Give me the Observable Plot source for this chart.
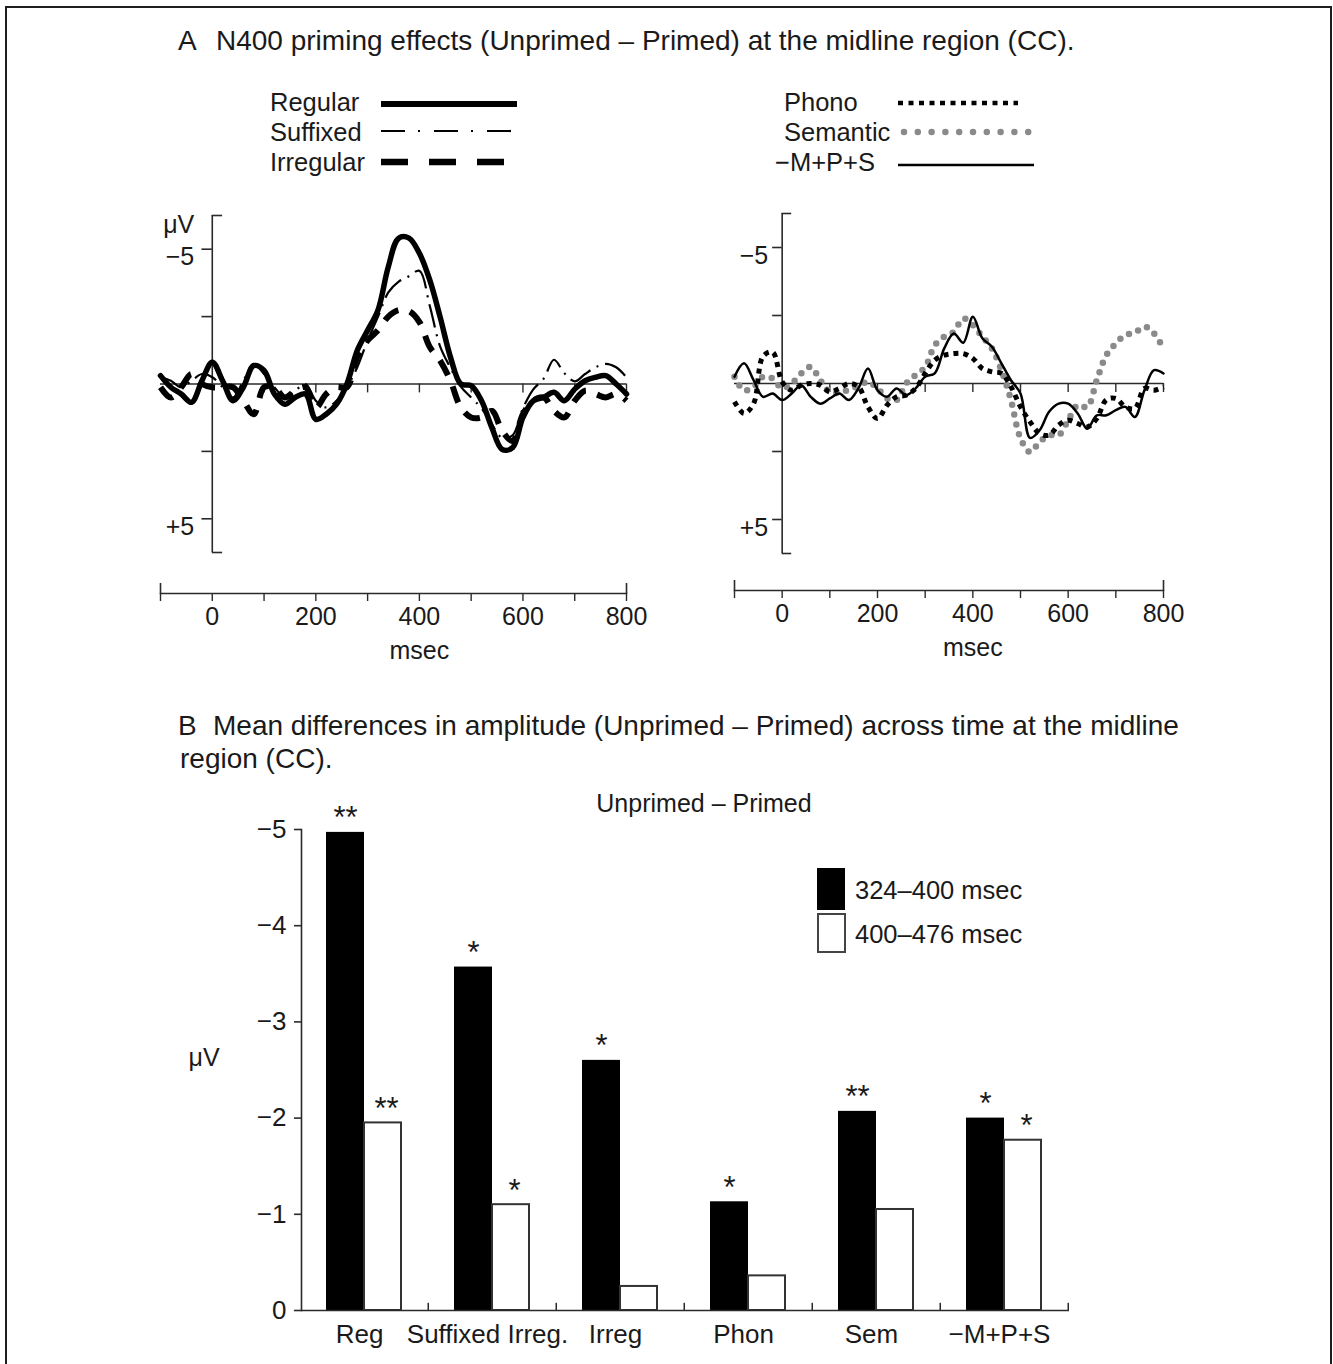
<!DOCTYPE html>
<html><head><meta charset="utf-8">
<script src="https://cdn.jsdelivr.net/npm/d3@7"></script>
<script src="https://cdn.jsdelivr.net/npm/@observablehq/plot@0.6"></script>
<style>
body{margin:0;background:#fff;}
#page{position:relative;width:1333px;height:1364px;overflow:hidden;font-family:"Liberation Sans",Arial,sans-serif;color:#1a1a1a;background:#fff;}
#frame{position:absolute;left:5px;top:6px;width:1327px;height:1420px;border:2.2px solid #1e1e1e;box-sizing:border-box;}
.abs{position:absolute;}
</style></head><body><div id="page"><div id="frame"></div></div>
<script>
// ---------------- DATA ----------------
const times = [-100,-80,-60,-40,-20,0,20,40,60,80,100,120,140,160,180,200,220,240,260,280,300,320,340,360,380,400,420,440,460,480,500,520,540,560,580,600,620,640,660,680,700,720,740,760,780,800];

const regular   = [-0.31,0.12,0.37,0.68,-0.12,-0.81,-0.12,0.62,0.12,-0.68,-0.5,0.37,0.75,0.5,0.37,1.31,1.12,0.75,0,-1.24,-1.99,-2.74,-4.35,-5.41,-5.41,-4.85,-3.86,-2.49,-1.0,0,0.06,0.62,1.62,2.43,2.36,1.24,0.62,0.5,0.31,0.62,0.19,-0.12,-0.25,-0.31,0,0.37];
const suffixed  = [-0.25,-0.12,0.12,-0.12,-0.37,-0.25,0.12,0.5,-0.12,-0.75,-0.37,0.12,0.5,0.25,0,0.62,0.87,0.62,0.12,-0.62,-1.62,-2.49,-3.4,-3.8,-4.0,-4.2,-2.9,-1.4,-0.6,0.1,0.5,0.9,1.5,2.0,1.9,0.9,0.2,-0.2,-0.9,-0.4,-0.1,-0.37,-0.62,-0.75,-0.62,-0.25];
const irregular = [0.12,0.5,0.12,-0.37,0,0.12,0.12,0.12,0.62,1.12,0.12,0.12,0.5,0.25,0.12,0.87,0.37,0.12,0.12,-1.0,-1.62,-1.99,-2.5,-2.74,-2.7,-2.3,-1.37,-0.87,-0.12,0.87,1.24,1.24,1.0,1.74,2.11,1.12,0.62,0.5,1.0,1.24,0.62,0.25,0.37,0.5,0.37,0.62];

const phono     = [0.67,1.1,0.74,-1.0,-1.15,-0.06,0.25,0.06,0,0.06,0.31,0.18,0,0.12,0.86,1.29,0.8,0.49,0.43,0.18,-0.37,-0.86,-1.04,-1.1,-1.1,-0.92,-0.55,-0.43,-0.37,0.12,0.86,1.41,1.84,1.9,1.53,1.35,1.47,1.6,1.29,0.6,0.55,0.86,0.92,0.18,0.25,0.12];
const semantic  = [-0.25,0.25,0.12,-0.25,-0.18,0.18,0,-0.37,-0.61,-0.12,0.31,0.34,0.22,0.1,-0.06,0.18,0.55,0.61,0,-0.31,-0.6,-1.4,-1.72,-1.9,-2.39,-2.15,-1.72,-1.29,-0.49,0.61,2.02,2.52,2.15,1.9,1.9,1.35,0.8,0.86,-0.12,-1.04,-1.47,-1.78,-1.87,-2.09,-1.84,-1.29];
const mps       = [-0.25,-0.74,-0.12,0.49,0.37,0.61,0.37,0.06,0.49,0.74,0.55,0.37,0.61,0.18,-0.55,0.25,0.49,0.18,0.43,0.18,-0.25,-0.37,-1.29,-1.84,-1.5,-2.45,-1.66,-1.35,-0.74,-0.12,0.37,2.0,1.72,1.04,0.74,0.74,1.1,1.66,1.17,1.17,0.98,0.86,1.23,0.25,-0.49,-0.37];

const leftSeriesNames  = ["Regular","Suffixed","Irregular"];
const rightSeriesNames = ["Phono","Semantic","−M+P+S"];

const erpXTicks = [-100,0,100,200,300,400,500,600,700,800];
const erpXLabeled = [0,200,400,600,800];
const erpBaseTicks = [100,200,300,400,500,600,700,800];
const erpYTicks = [-5,-2.5,2.5,5];
const erpYEnds = [-6.25,6.25];
const erpYTickLabels = ["−5","+5"];
const erpYTickLabelValues = [-5,5];
const erpUnit = "μV";
const erpXLabel = "msec";

const categories = ["Reg","Suffixed Irreg.","Irreg","Phon","Sem","−M+P+S"];
const early = [-4.97,-3.57,-2.60,-1.13,-2.07,-2.00];   // 324–400 msec
const late  = [-1.95,-1.10,-0.25,-0.36,-1.05,-1.77];   // 400–476 msec
const earlyStars = ["**","*","*","*","**","*"];
const lateStars  = ["**","*","","","","*"];
const barYTicks = [-5,-4,-3,-2,-1,0];
const periods = ["324–400 msec","400–476 msec"];

const titleA = ["A","N400 priming effects (Unprimed – Primed) at the midline region (CC)."];
const titleB = ["B","Mean differences in amplitude (Unprimed – Primed) across time at the midline","region (CC)."];
const barTitle = "Unprimed – Primed";

// ---------------- STYLES ----------------
const FONT = '"Liberation Sans", Arial, sans-serif';
const INK = "#1a1a1a";
const AX = "#2a2a2a";
const styles = {
  "Regular":   {stroke:"#000", strokeWidth:5.5, strokeLinecap:"round"},
  "Suffixed":  {stroke:"#000", strokeWidth:2.2, strokeDasharray:"24 7 2 7", strokeLinecap:"butt"},
  "Irregular": {stroke:"#000", strokeWidth:6,   strokeDasharray:"17 12", strokeLinecap:"butt"},
  "Phono":     {stroke:"#000", strokeWidth:5,   strokeDasharray:"5 5", strokeLinecap:"butt"},
  "Semantic":  {stroke:"#8a8a8a", strokeWidth:6.5, strokeDasharray:"0 10", strokeLinecap:"round"},
  "−M+P+S":    {stroke:"#000", strokeWidth:2.5, strokeLinecap:"round"}
};
// legend-specific dash patterns (the legend swatches are drawn with a looser rhythm)
const legendStyles = {
  "Regular":   {width: 6,   dash: null,          cap: "butt"},
  "Suffixed":  {width: 2.2, dash: "24 13 2 14",  cap: "butt"},
  "Irregular": {width: 6.5, dash: "27 21",       cap: "butt"},
  "Phono":     {width: 4.5, dash: "5 5.5",       cap: "butt"},
  "Semantic":  {width: 6.5, dash: "0 13.8",      cap: "round"},
  "−M+P+S":    {width: 2.6, dash: null,          cap: "butt"}
};
const seriesValues = {"Regular":regular,"Suffixed":suffixed,"Irregular":irregular,"Phono":phono,"Semantic":semantic,"−M+P+S":mps};
const tidy = name => seriesValues[name].map((v,i)=>({t: times[i], v}));

const baseStyle = {background:"transparent", fontFamily: FONT, color: INK, overflow:"visible"};
const page = document.getElementById("page");
function place(el, left, top){ el.classList.add("abs"); el.style.left = left+"px"; el.style.top = top+"px"; page.appendChild(el); }

// ---------------- ERP PANELS ----------------
function erpPlot({width, mL, mR, mT, mB, inset, labelDx, labelDy, unit, drawOrder}) {
  const frameH = 480 - mT - mB;
  const yLab = erpYTickLabelValues.map((v,i)=>({v, label: erpYTickLabels[i]}));
  const marks = [
    Plot.ruleY([0], {stroke: AX, strokeWidth: 1.4}),
    Plot.ruleX(erpBaseTicks, {y1: 0, y2: 0.33, stroke: AX, strokeWidth: 1.4}),
    Plot.ruleX([0], {y1: erpYEnds[0], y2: erpYEnds[1], stroke: AX, strokeWidth: 1.6}),
    Plot.ruleY(erpYTicks, {x1: -20, x2: 0, stroke: AX, strokeWidth: 1.6}),
    Plot.ruleY(erpYEnds, {x1: 0, x2: 20, stroke: AX, strokeWidth: 1.6}),
    Plot.text(yLab, {x: 0, y: "v", text: "label", dx: labelDx, dy: labelDy, textAnchor: "end", fontSize: 25, fill: INK})
  ];
  if (unit) marks.push(Plot.text([unit], {x: 0, y: erpYEnds[0], text: d=>d, dx: labelDx, dy: 9, textAnchor: "end", fontSize: 25, fill: INK}));
  for (const n of drawOrder) marks.push(Plot.line(tidy(n), {x:"t", y:"v", curve:"catmull-rom", ...styles[n]}));
  marks.push(
    Plot.frame({anchor: "bottom", stroke: AX, strokeWidth: 1.6}),
    Plot.tickX([erpXTicks[0], erpXTicks[erpXTicks.length-1]], {insetTop: frameH - 10, stroke: AX, strokeWidth: 1.6}),
    Plot.axisX({ticks: erpXTicks, tickSize: 8, tickPadding: 6, strokeWidth: 1.4, stroke: AX,
      tickFormat: d => erpXLabeled.includes(d) ? String(d) : "", fontSize: 25, fill: INK}),
    Plot.text([{x: 400, label: erpXLabel}], {x:"x", text:"label", frameAnchor:"bottom", dy: 57, lineAnchor:"middle", fontSize: 25, fill: INK})
  );
  return Plot.plot({
    width, height: 480, marginTop: mT, marginBottom: mB, marginLeft: mL, marginRight: mR,
    style: baseStyle,
    x: {domain: [-100, 800], label: null},
    y: {domain: [-6.25, 6.25], reverse: true, insetBottom: inset, axis: null, label: null},
    marks
  });
}

const leftERP = erpPlot({width: 680, mL: 160, mR: 54, mT: 25, mB: 77, inset: 41,
  labelDx: -18, labelDy: 8, unit: erpUnit, drawOrder: ["Irregular","Suffixed","Regular"]});
place(leftERP, 0, 190);

const rightERP = erpPlot({width: 653, mL: 54, mR: 170, mT: 23, mB: 80, inset: 37,
  labelDx: -14, labelDy: 8, unit: null, drawOrder: ["Semantic","Phono","−M+P+S"]});
place(rightERP, 680, 190);

// ---------------- BAR CHART ----------------
const barData = categories.map((c,i)=>({cat: c, early: early[i], late: late[i], es: earlyStars[i], ls: lateStars[i]}));
const barChart = Plot.plot({
  width: 1333, height: 584, marginTop: 49, marginBottom: 54, marginLeft: 301, marginRight: 264,
  style: baseStyle,
  x: {domain: categories, padding: 0, label: null},
  y: {domain: [0, -5], axis: null, label: null},
  marks: [
    Plot.barY(barData, {x: "cat", y: "early", fill: "#000", insetLeft: 25, insetRight: 65}),
    Plot.barY(barData, {x: "cat", y: "late", fill: "#fff", stroke: "#333", strokeWidth: 2, insetLeft: 63, insetRight: 28}),
    Plot.barY(categories, {x: d => d, y1: 0, y2: -0.075, insetLeft: 126.5, fill: AX}),
    Plot.ruleY([0], {stroke: AX, strokeWidth: 1.6}),
    Plot.frame({anchor: "left", stroke: AX, strokeWidth: 1.6}),
    Plot.axisY({ticks: barYTicks, tickSize: 7, tickPadding: 8, strokeWidth: 1.6, stroke: AX,
      tickFormat: d => d === 0 ? "0" : "−" + Math.abs(d), fontSize: 26, fill: INK}),
    Plot.axisX({tickSize: 0, tickPadding: 14, dx: -6, fontSize: 26, fill: INK}),
    Plot.text(barData, {x: "cat", y: "early", text: "es", dx: -20, dy: -14, lineAnchor: "middle", fontSize: 31, fill: INK}),
    Plot.text(barData, {x: "cat", y: "late", text: "ls", dx: 21, dy: -14, lineAnchor: "middle", fontSize: 31, fill: INK}),
    Plot.text([erpUnit], {text: d => d, frameAnchor: "left", dx: -113, dy: -12, textAnchor: "start", fontSize: 25, fill: INK})
  ]
});
place(barChart, 0, 780);

// ---------------- OVERLAY: titles & legends ----------------
const ov = d3.select(page).append("svg").attr("width", 1333).attr("height", 1364)
  .style("position","absolute").style("left","0px").style("top","0px")
  .style("font-family", FONT).style("pointer-events","none");
function txt(x, y, s, size, anchor="start") {
  ov.append("text").attr("x", x).attr("y", y).attr("font-size", size)
    .attr("text-anchor", anchor).attr("fill", INK).text(s);
}
function legLine(x1, x2, y, name) {
  const s = styles[name], L = legendStyles[name];
  const l = ov.append("line").attr("x1", x1).attr("x2", x2).attr("y1", y).attr("y2", y)
    .attr("stroke", s.stroke).attr("stroke-width", L.width).attr("stroke-linecap", L.cap);
  if (L.dash) l.attr("stroke-dasharray", L.dash);
}
// Titles
txt(178, 50, titleA[0], 28);
txt(216, 50, titleA[1], 28);
txt(178, 735, titleB[0], 28);
txt(213, 735, titleB[1], 28);
txt(180, 768, titleB[2], 28);

// ERP legends
const legL = [{y: 111, ly: 104, x1: 381, x2: 517}, {y: 141, ly: 131, x1: 381, x2: 513}, {y: 171, ly: 162, x1: 381, x2: 507}];
leftSeriesNames.forEach((n,i) => { txt(270, legL[i].y, n, 25.5); legLine(legL[i].x1, legL[i].x2, legL[i].ly, n); });
const legR = [{x: 784, y: 111, ly: 103, x1: 898, x2: 1018}, {x: 784, y: 141, ly: 132, x1: 904, x2: 1030}, {x: 775, y: 171, ly: 165, x1: 898, x2: 1034}];
rightSeriesNames.forEach((n,i) => { txt(legR[i].x, legR[i].y, n, 25.5); legLine(legR[i].x1, legR[i].x2, legR[i].ly, n); });

// Bar chart title and legend
txt(704, 812, barTitle, 25, "middle");
ov.append("rect").attr("x", 817).attr("y", 868).attr("width", 28).attr("height", 42).attr("fill", "#000");
ov.append("rect").attr("x", 818).attr("y", 914).attr("width", 27).attr("height", 38).attr("fill", "#fff").attr("stroke", "#444").attr("stroke-width", 2);
txt(855, 899, periods[0], 25.5);
txt(855, 943, periods[1], 25.5);
</script>
</body></html>
